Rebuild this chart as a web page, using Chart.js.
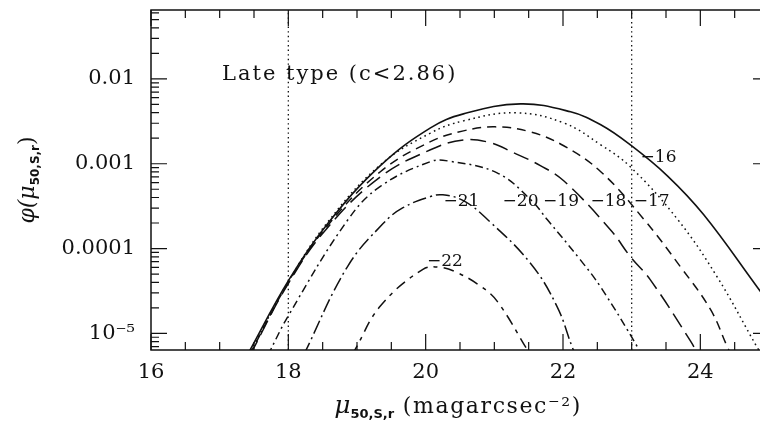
<!DOCTYPE html>
<html lang="en">
<head>
<meta charset="UTF-8" />
<title>Late type surface brightness function</title>
<script src="https://cdn.jsdelivr.net/npm/chart.js@4"></script>
<style>
  html, body { margin: 0; padding: 0; background: #fff; overflow: hidden; }
  #wrap { width: 760px; height: 421px; overflow: hidden; }
</style>
</head>
<body>
<div id="wrap"><canvas id="sbChart" width="772" height="421"></canvas></div>
<script>
// one curve per absolute magnitude bin
const x16 = [17.40, 18.01, 18.58, 19.34, 20.07, 20.55, 21.38, 22.11, 22.55, 22.98, 23.52, 24.05, 24.83, 25.05];
const phi16 = [5.5e-6, 4.3e-5, 2.0e-4, 9.5e-4, 2.65e-3, 3.87e-3, 5.08e-3, 4.09e-3, 2.88e-3, 1.67e-3, 7.2e-4, 2.5e-4, 3.5e-5, 2.0e-5];

const x17 = [17.42, 18.01, 18.58, 19.34, 20.07, 20.55, 21.31, 22.01, 22.55, 22.98, 23.67, 24.25, 24.83, 24.95];
const phi17 = [5.5e-6, 4.2e-5, 2.08e-4, 9.7e-4, 2.3e-3, 3.2e-3, 3.98e-3, 3.03e-3, 1.67e-3, 9.2e-4, 2.2e-4, 4.56e-5, 6.8e-6, 4.8e-6];

const x18 = [17.43, 18.01, 18.58, 19.34, 20.07, 20.55, 21.01, 21.52, 22.01, 22.55, 23.17, 23.71, 24.15, 24.41, 24.51];
const phi18 = [5.5e-6, 4.1e-5, 1.9e-4, 8.05e-4, 1.82e-3, 2.44e-3, 2.72e-3, 2.38e-3, 1.63e-3, 8.05e-4, 2.25e-4, 6.1e-5, 1.9e-5, 6.5e-6, 4.7e-6];

const x19 = [17.44, 18.01, 18.58, 19.34, 20.07, 20.55, 20.94, 21.28, 21.67, 22.01, 22.69, 22.98, 23.27, 23.86, 23.97];
const phi19 = [5.5e-6, 4.0e-5, 1.8e-4, 7.0e-4, 1.46e-3, 1.91e-3, 1.77e-3, 1.35e-3, 9.5e-4, 6.3e-4, 1.67e-4, 8.05e-5, 4.3e-5, 8.05e-6, 5.5e-6];

const x20 = [17.70, 18.01, 18.87, 19.34, 20.07, 20.32, 21.04, 21.53, 21.77, 22.25, 22.55, 23.09, 23.13];
const phi20 = [5.5e-6, 1.67e-5, 2.2e-4, 5.4e-4, 1.06e-3, 1.08e-3, 7.8e-4, 3.76e-4, 2.2e-4, 7.4e-5, 3.5e-5, 6.8e-6, 5.5e-6];

const x21 = [18.22, 18.86, 19.38, 19.67, 20.07, 20.25, 20.55, 20.90, 21.52, 21.91, 22.15, 22.20];
const phi21 = [5.5e-6, 6.1e-5, 1.97e-4, 3.03e-4, 4.1e-4, 4.3e-4, 3.67e-4, 2.2e-4, 6.8e-5, 2.1e-5, 6.4e-6, 5.5e-6];

const x22 = [18.92, 18.97, 19.34, 19.96, 20.21, 20.46, 20.80, 21.04, 21.48, 21.52];
const phi22 = [5.5e-6, 6.4e-6, 2.1e-5, 5.7e-5, 6.0e-5, 5.2e-5, 3.6e-5, 2.4e-5, 6.4e-6, 5.5e-6];

const curveX = [x16, x17, x18, x19, x20, x21, x22];
const curvePhi = [phi16, phi17, phi18, phi19, phi20, phi21, phi22];
const magLabels = ['\u221216', '\u221217', '\u221218', '\u221219', '\u221220', '\u221221', '\u221222'];
const labelX = [23.13, 23.03, 22.40, 21.71, 21.12, 20.26, 20.02];
const labelPhi = [1.18e-3, 3.57e-4, 3.57e-4, 3.57e-4, 3.57e-4, 3.57e-4, 7.0e-5];

// dotted vertical markers
const markerX = [18, 23];

const xMin = 16, xMax = 25;
const yMin = 6.37e-6, yMax = 0.0649;
const xTickValues = [16, 18, 20, 22, 24];
const yTickValues = [1e-5, 1e-4, 1e-3, 1e-2];
const yTickLabels = ['10\u207B\u2075', '0.0001', '0.001', '0.01'];

const dashes = [[], [1.6, 3.6], [9, 6], [16, 7], [8, 4, 2, 4], [14, 4, 2, 4], [11, 6, 4, 6]];
const ink = '#111';
const serif = '"DejaVu Serif", "Liberation Serif", serif';

const datasets = curveX.map((xs, i) => ({
  label: magLabels[i],
  data: xs.map((v, j) => ({ x: v, y: curvePhi[i][j] })),
  borderColor: ink,
  borderWidth: i === 0 ? 1.6 : 1.5,
  borderDash: dashes[i],
  pointRadius: 0,
  fill: false,
  tension: 0.4
}));

markerX.forEach(v => datasets.push({
  label: 'marker ' + v,
  data: [{ x: v, y: yMin }, { x: v, y: yMax }],
  borderColor: ink,
  borderWidth: 1.3,
  borderDash: [1.4, 3.2],
  pointRadius: 0,
  fill: false
}));

// parts: [text, font, baseline shift, letter spacing]
function drawParts(ctx, cx, cy, parts) {
  let total = 0;
  parts.forEach(p => {
    ctx.font = p[1];
    ctx.letterSpacing = (p[3] || 0) + 'px';
    total += ctx.measureText(p[0]).width;
  });
  let px = cx - total / 2;
  parts.forEach(p => {
    ctx.font = p[1];
    ctx.letterSpacing = (p[3] || 0) + 'px';
    ctx.fillText(p[0], px, cy + p[2]);
    px += ctx.measureText(p[0]).width;
  });
  ctx.letterSpacing = '0px';
}

const framePlugin = {
  id: 'frame',
  afterDatasetsDraw(chart) {
    const { ctx, chartArea: a, scales: { x, y } } = chart;
    ctx.save();
    ctx.strokeStyle = ink;
    ctx.lineWidth = 1.5;
    ctx.strokeRect(a.left, a.top, a.right - a.left, a.bottom - a.top);

    // inward ticks on all four sides
    ctx.lineWidth = 1.2;
    ctx.beginPath();
    for (let v = xMin; v <= xMax + 1e-9; v += 0.5) {
      const px = x.getPixelForValue(v);
      const len = Math.abs(v % 2) < 1e-9 ? 16 : 8;
      ctx.moveTo(px, a.bottom); ctx.lineTo(px, a.bottom - len);
      ctx.moveTo(px, a.top); ctx.lineTo(px, a.top + len);
    }
    for (let d = -6; d <= -1; d++) {
      for (let m = 1; m <= 9; m++) {
        const v = m * Math.pow(10, d);
        if (v < yMin || v > yMax) continue;
        const py = y.getPixelForValue(v);
        const len = m === 1 ? 16 : 8;
        ctx.moveTo(a.left, py); ctx.lineTo(a.left + len, py);
        ctx.moveTo(a.right, py); ctx.lineTo(a.right - len, py);
      }
    }
    ctx.stroke();

    ctx.fillStyle = ink;
    ctx.textBaseline = 'alphabetic';
    ctx.textAlign = 'left';
    ctx.font = '21px ' + serif;
    ctx.letterSpacing = '2px';
    ctx.fillText('Late type (c<2.86)', a.left + 71, a.top + 70);
    ctx.letterSpacing = '0px';

    ctx.font = '17px ' + serif;
    ctx.textBaseline = 'middle';
    magLabels.forEach((t, i) => {
      ctx.fillText(t, x.getPixelForValue(labelX[i]), y.getPixelForValue(labelPhi[i]));
    });

    // axis titles with subscripts
    ctx.textBaseline = 'alphabetic';
    drawParts(ctx, 458, 413, [
      ['\u03BC', 'italic 25px ' + serif, 0],
      ['50,S,r', 'bold 13px "DejaVu Sans", sans-serif', 5],
      [' (magarcsec\u207B\u00B2)', '22px ' + serif, 0, 1.6]
    ]);

    ctx.translate(34, 180);
    ctx.rotate(-Math.PI / 2);
    drawParts(ctx, 0, 0, [
      ['\u03C6(', 'italic 22px ' + serif, 0],
      ['\u03BC', 'italic 22px ' + serif, 0],
      ['50,S,r', 'bold 12px "DejaVu Sans", sans-serif', 5],
      [')', '22px ' + serif, 0]
    ]);
    ctx.restore();
  }
};

new Chart(document.getElementById('sbChart'), {
  type: 'line',
  data: { datasets },
  options: {
    responsive: false,
    animation: false,
    layout: { padding: { top: 10, right: 3, left: 0, bottom: 0 } },
    plugins: { legend: { display: false }, tooltip: { enabled: false } },
    scales: {
      x: {
        type: 'linear',
        min: xMin,
        max: xMax,
        grid: { display: false, drawTicks: false },
        border: { display: false },
        afterFit: s => { s.height = 71; s.paddingLeft = 0; s.paddingRight = 0; },
        ticks: {
          stepSize: 1,
          autoSkip: false,
          maxRotation: 0,
          padding: 10,
          color: ink,
          font: { family: serif, size: 21 },
          callback: v => xTickValues.includes(v) ? String(v) : ''
        }
      },
      y: {
        type: 'logarithmic',
        min: yMin,
        max: yMax,
        grid: { display: false, drawTicks: false },
        border: { display: false },
        afterFit: s => { s.width = 151; s.paddingTop = 0; s.paddingBottom = 0; },
        ticks: {
          autoSkip: false,
          padding: 16,
          color: ink,
          font: { family: serif, size: 21 },
          callback: v => {
            const k = yTickValues.findIndex(t => Math.abs(t - v) / t < 1e-6);
            return k >= 0 ? yTickLabels[k] : '';
          }
        }
      }
    }
  },
  plugins: [framePlugin]
});
</script>
</body>
</html>
